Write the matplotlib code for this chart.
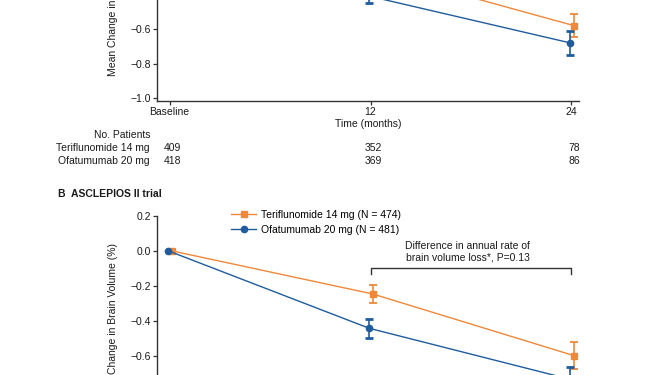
import matplotlib
matplotlib.use("Agg")
import matplotlib.pyplot as plt
from matplotlib.transforms import blended_transform_factory

plt.rcParams["font.family"] = ["Liberation Sans", "DejaVu Sans"]
plt.rcParams["font.size"] = 7.5

# data
months = [0, 12, 24]
month_labels = ["Baseline", "12", "24"]

teri_a = [0.0, -0.26, -0.58]
teri_a_err = [0.0, 0.05, 0.068]
ofa_a = [0.0, -0.41, -0.68]
ofa_a_err = [0.0, 0.042, 0.067]

teri_b = [0.0, -0.245, -0.595]
teri_b_err = [0.0, 0.052, 0.075]
ofa_b = [0.0, -0.44, -0.73]
ofa_b_err = [0.0, 0.053, 0.07]

patients_teri_a = [409, 352, 78]
patients_ofa_a = [418, 369, 86]

label_teri = "Teriflunomide 14 mg"
label_ofa = "Ofatumumab 20 mg"
n_teri_b = 474
n_ofa_b = 481

ORANGE = "#F0883A"
BLUE = "#1F5C9E"
SPINE = "#333333"
TEXT = "#1a1a1a"

W, H = 658, 375
fig = plt.figure(figsize=(W / 100, H / 100), dpi=100)
fig.patch.set_facecolor("white")


def px_axes(left, right, top, bottom):
    return fig.add_axes([left / W, 1 - bottom / H, (right - left) / W, (bottom - top) / H])


def style(ax):
    yt = [0.2, 0.0, -0.2, -0.4, -0.6, -0.8, -1.0]
    ax.set_xlim(-0.75, 24.45)
    ax.set_ylim(-1.015, 0.2)
    ax.set_yticks(yt)
    ax.set_yticklabels([f"{v:.1f}".replace("-", "\u2212") for v in yt])
    ax.set_xticks(months)
    ax.set_xticklabels(month_labels)
    for s in ["top", "right"]:
        ax.spines[s].set_visible(False)
    for s in ["left", "bottom"]:
        ax.spines[s].set_color(SPINE)
        ax.spines[s].set_linewidth(1.0)
    ax.tick_params(length=3, width=0.9, color=SPINE, pad=1.5, labelsize=7.5, labelcolor=TEXT)
    ax.set_ylabel("Mean Change in Brain Volume (%)", fontsize=7.5, color=TEXT)
    ax.yaxis.set_label_coords(-0.092, 0.5)
    ax.set_xlabel("Time (months)", fontsize=7.5, color=TEXT)
    ax.xaxis.set_label_coords(0.5, -0.085)


def draw(ax, teri, teri_err, ofa, ofa_err, teri_label, ofa_label):
    xt = [m + 0.14 for m in months]
    xo = [m - 0.07 for m in months]
    ax.errorbar(xt[1:], teri[1:], yerr=teri_err[1:], fmt="none", ecolor=ORANGE,
                elinewidth=1.2, capsize=3, capthick=1.3, zorder=2)
    ax.errorbar(xo[1:], ofa[1:], yerr=ofa_err[1:], fmt="none", ecolor=BLUE,
                elinewidth=1.2, capsize=3, capthick=2.0, zorder=2)
    ax.plot(xt, teri, color=ORANGE, lw=1.0, marker="s", ms=5, label=teri_label, zorder=3)
    ax.plot(xo, ofa, color=BLUE, lw=1.0, marker="o", ms=4.5, label=ofa_label, zorder=3)


# panel A (top part cropped off)
ax_a = px_axes(157, 579, -109.4, 100.9)
style(ax_a)
draw(ax_a, teri_a, teri_a_err, ofa_a, ofa_a_err, label_teri, label_ofa)

# number of patients table under panel A
tr = blended_transform_factory(ax_a.transData, fig.transFigure)
fig.text(150 / W, 1 - 135 / H, "No. Patients", ha="right", va="center", fontsize=7.5, color=TEXT)
fig.text(150 / W, 1 - 148 / H, label_teri, ha="right", va="center", fontsize=7.5, color=TEXT)
fig.text(150 / W, 1 - 161 / H, label_ofa, ha="right", va="center", fontsize=7.5, color=TEXT)
for m, nt, no in zip(months, patients_teri_a, patients_ofa_a):
    ax_a.text(m + 0.15, 1 - 148 / H, str(nt), transform=tr, ha="center", va="center",
              fontsize=7.5, color=TEXT)
    ax_a.text(m + 0.15, 1 - 161 / H, str(no), transform=tr, ha="center", va="center",
              fontsize=7.5, color=TEXT)

# panel B (bottom part cropped off)
fig.text(58 / W, 1 - 194 / H, "B  ASCLEPIOS II trial", ha="left", va="center",
         fontsize=7.5, fontweight="bold", color=TEXT)
ax_b = px_axes(157, 579, 215.7, 429.5)
style(ax_b)
draw(ax_b, teri_b, teri_b_err, ofa_b, ofa_b_err,
     f"{label_teri} (N = {n_teri_b})", f"{label_ofa} (N = {n_ofa_b})")
ax_b.legend(loc="upper left", bbox_to_anchor=(231 / W, 1 - 210 / H), bbox_transform=fig.transFigure,
            frameon=False, fontsize=7.5, handlelength=2.4, handletextpad=0.5,
            labelspacing=0.45, borderpad=0, borderaxespad=0)

# bracket for the annual rate comparison
ax_b.plot([12, 12, 24, 24], [-0.133, -0.1, -0.1, -0.133], color=SPINE, lw=1.0)
ax_b.text(17.8, 0.028, "Difference in annual rate of", ha="center", va="center",
          fontsize=7.5, color=TEXT)
ax_b.text(17.8, -0.038, "brain volume loss*, P=0.13", ha="center", va="center",
          fontsize=7.5, color=TEXT)

fig.savefig("out.png", dpi=100, facecolor="white")
